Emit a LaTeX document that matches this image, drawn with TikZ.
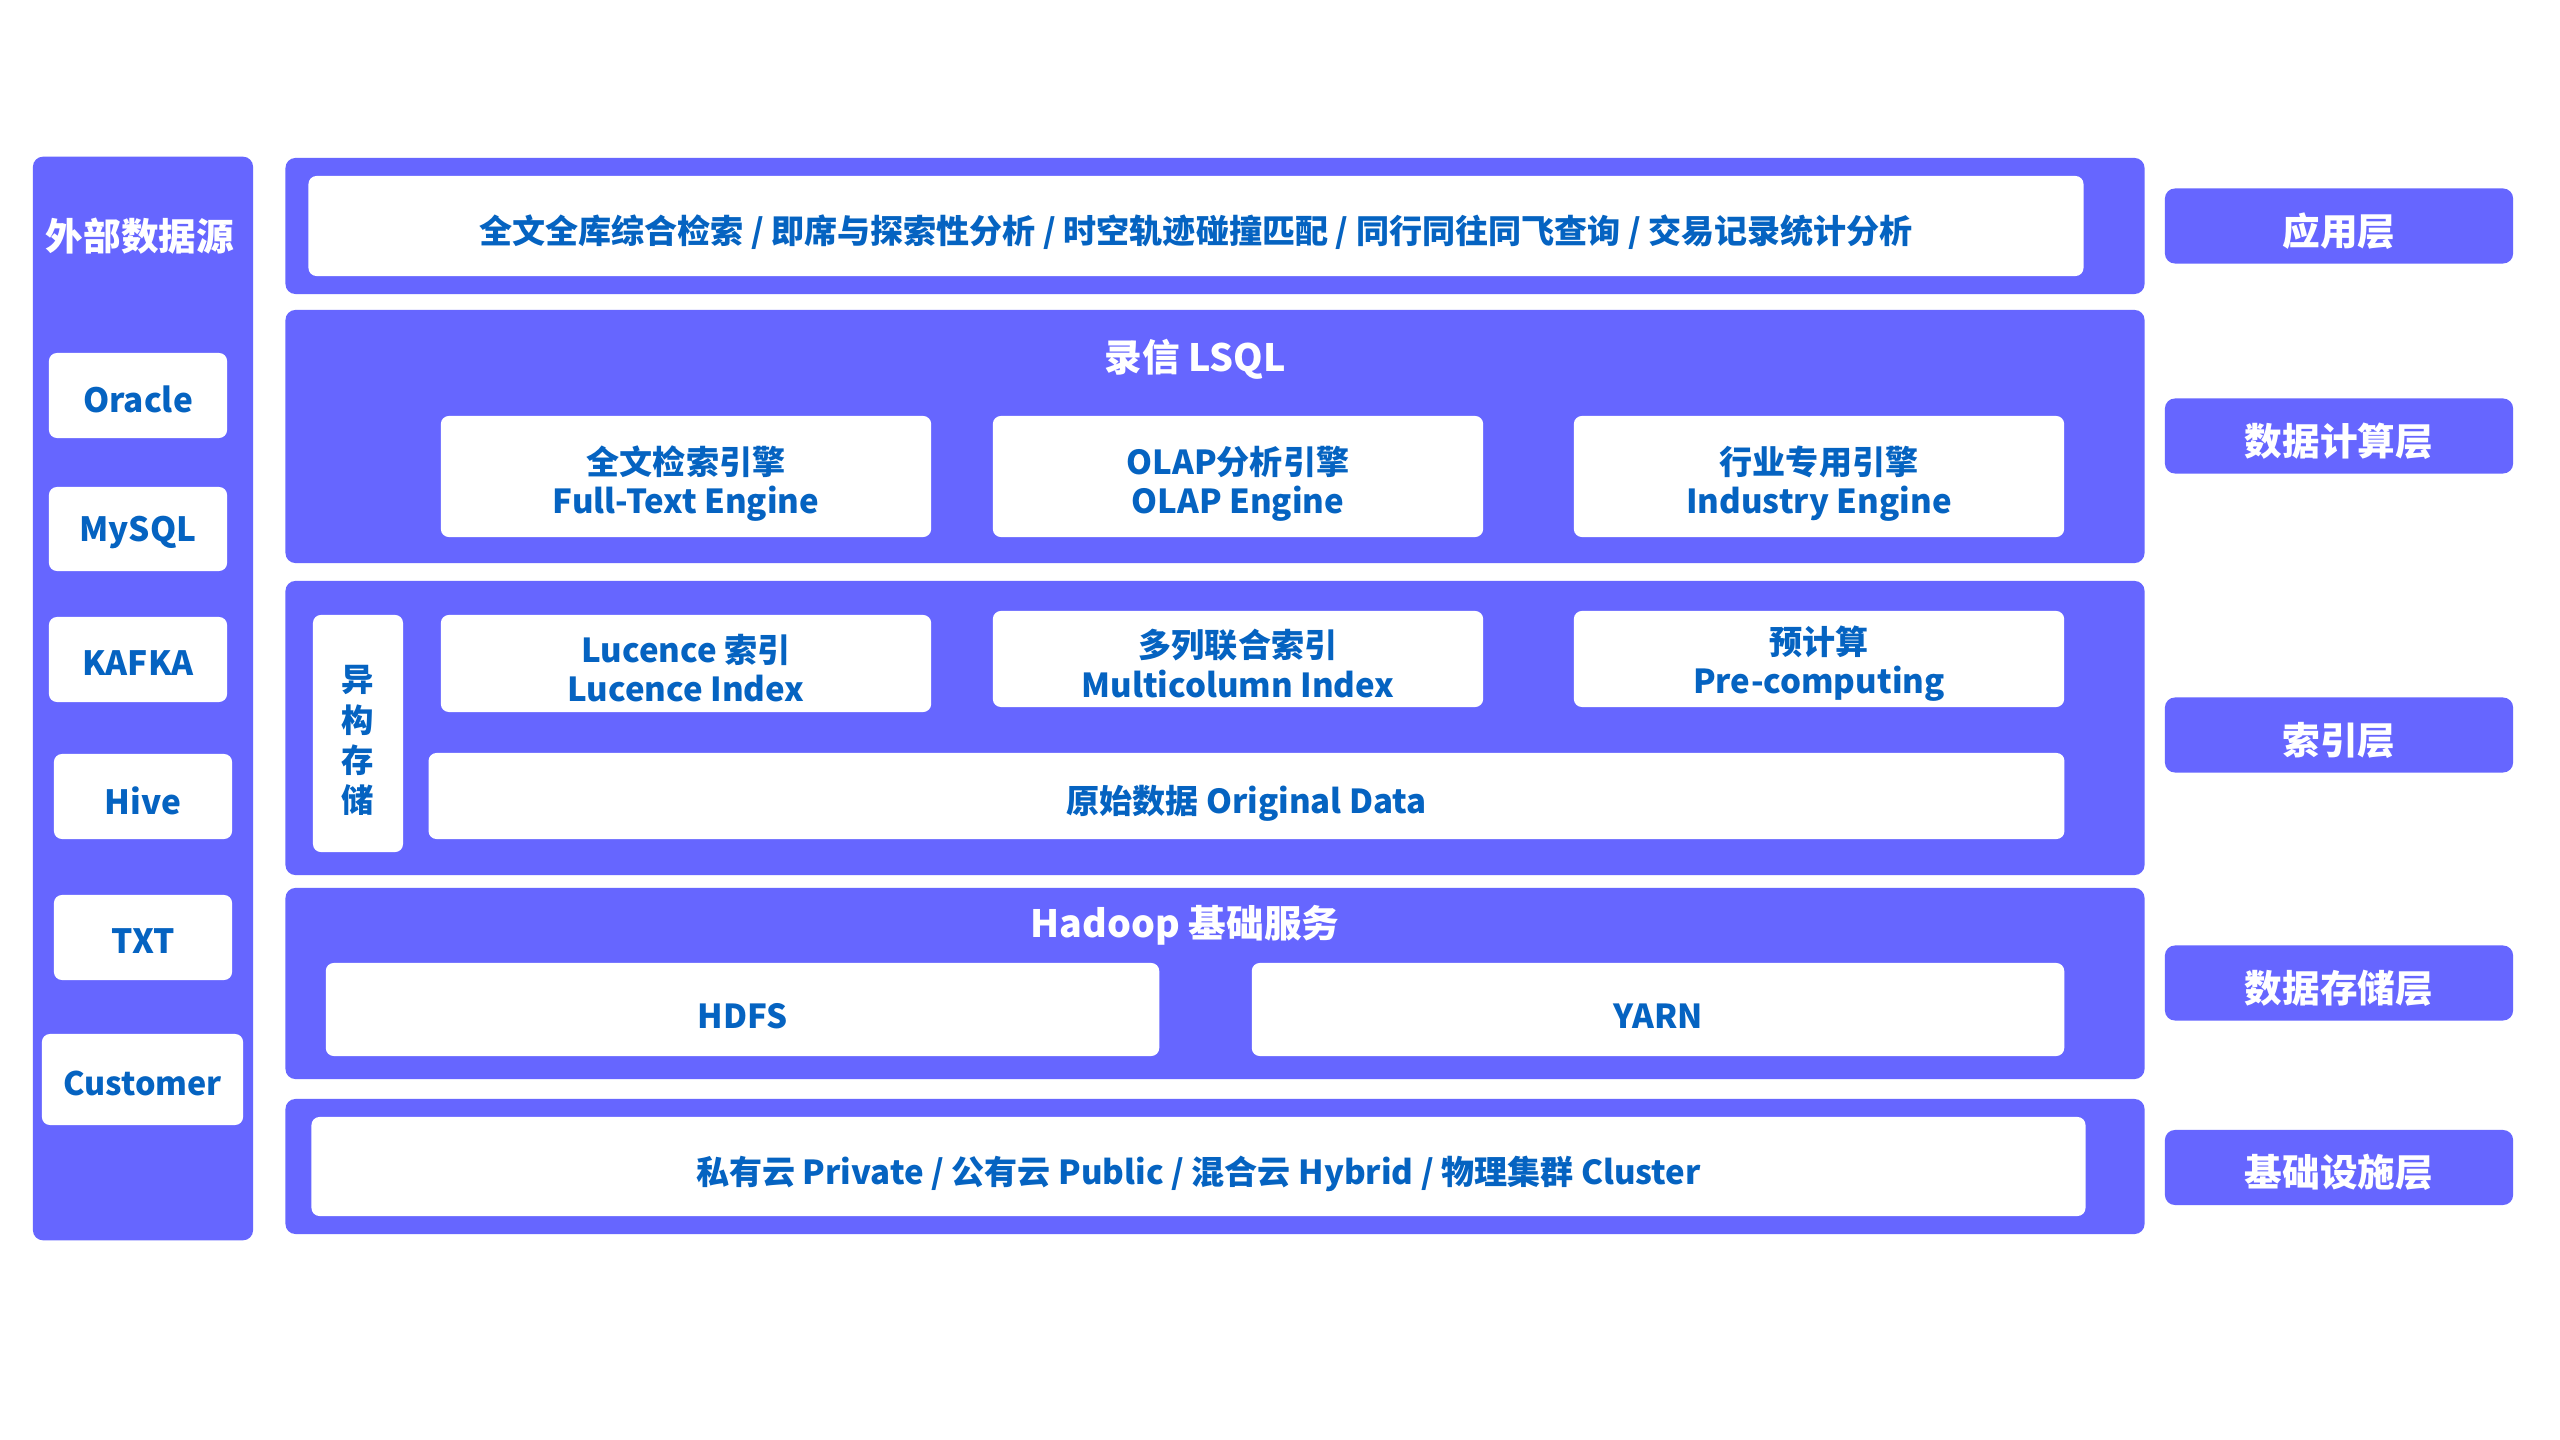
\documentclass[tikz,border=0pt]{standalone}
\usepackage{fontspec}
\setmainfont{Noto Sans CJK SC}
\definecolor{lay}{HTML}{6666FF}
\definecolor{tx}{HTML}{0563C1}
\tikzset{
  layer/.style={fill=lay, rounded corners=0.1cm, inner sep=0pt, outer sep=0pt, minimum width=18.58cm},
  wbox/.style={fill=white, rounded corners=0.08cm, inner sep=0pt, outer sep=0pt},
  basetxt/.style={text=tx, align=center, inner sep=0pt, font=\bfseries\fontsize{9.4}{11.2}\selectfont},
  wtxt/.style={basetxt, yshift=-0.07cm},
  itxt/.style={basetxt, yshift=-0.045cm},
  srctxt/.style={basetxt, yshift=-0.04cm, font=\bfseries\fontsize{9.5}{11.4}\selectfont},
  lbl/.style={fill=lay, rounded corners=0.1cm, inner sep=0pt, minimum width=3.48cm, minimum height=0.75cm},
  lbltxt/.style={text=white, inner sep=0pt, yshift=-0.05cm, font=\bfseries\fontsize{10.7}{12.8}\selectfont},
  ttl/.style={text=white, inner sep=0pt, yshift=-0.03cm, font=\bfseries\fontsize{10.7}{12.8}\selectfont},
}
\begin{document}
\begin{tikzpicture}[x=0.01cm,y=-0.01cm]
\useasboundingbox[fill=white] (0,0) rectangle (2560,1440);

% left column
\node[layer, minimum width=2.2cm, minimum height=10.83cm] (src) at (143,698.5) {};
\node[ttl] (srct) at (140,233) {外部数据源};
\node[wbox, minimum width=1.78cm, minimum height=0.85cm] (oracle) at (138,395.5) {};
\node[srctxt] (oraclet) at (oracle) {Oracle};
\node[wbox, minimum width=1.78cm, minimum height=0.84cm] (mysql) at (138,529) {};
\node[srctxt] (mysqlt) at (mysql) {MySQL};
\node[wbox, minimum width=1.78cm, minimum height=0.85cm] (kafka) at (138,659.5) {};
\node[srctxt] (kafkat) at (kafka) {KAFKA};
\node[wbox, minimum width=1.78cm, minimum height=0.85cm] (hive) at (143,796.5) {};
\node[srctxt] (hivet) at (hive) {Hive};
\node[wbox, minimum width=1.78cm, minimum height=0.85cm] (txt) at (143,937.5) {};
\node[srctxt] (txtt) at (txt) {TXT};
\node[wbox, minimum width=2.01cm, minimum height=0.91cm] (cust) at (142.5,1079.5) {};
\node[srctxt, font=\bfseries\fontsize{9.2}{11}\selectfont] (custt) at (cust) {Customer};

% application layer
\node[layer, minimum height=1.36cm] (app) at (1215,226) {};
\node[wbox, minimum width=17.74cm, minimum height=1.0cm] (appin) at (1196,226) {};
\node[wtxt, yshift=0.01cm] (appint) at (appin)
  {全文全库综合检索 / 即席与探索性分析 / 时空轨迹碰撞匹配 / 同行同往同飞查询 / 交易记录统计分析};

% compute layer
\node[layer, minimum height=2.53cm] (lsql) at (1215,436.5) {};
\node[ttl] (lsqlt) at (1195,356) {录信 LSQL};
\node[wbox, minimum width=4.9cm, minimum height=1.21cm] (e1) at (686,476.5) {};
\node[wtxt] (e1t) at (e1) {全文检索引擎\\Full-Text Engine};
\node[wbox, minimum width=4.9cm, minimum height=1.21cm] (e2) at (1238,476.5) {};
\node[wtxt] (e2t) at (e2) {OLAP分析引擎\\OLAP Engine};
\node[wbox, minimum width=4.9cm, minimum height=1.21cm] (e3) at (1819,476.5) {};
\node[wtxt] (e3t) at (e3) {行业专用引擎\\Industry Engine};

% index layer
\node[layer, minimum height=2.94cm] (idx) at (1215,728) {};
\node[wbox, minimum width=0.9cm, minimum height=2.37cm] (het) at (358,733.5) {};
\node[wtxt, font=\bfseries\fontsize{9.2}{11.4}\selectfont] (hett) at (het) {异\\构\\存\\储};
\node[wbox, minimum width=4.9cm, minimum height=0.97cm] (i1) at (686,663.5) {};
\node[itxt] (i1t) at (i1) {Lucence 索引\\Lucence Index};
\node[wbox, minimum width=4.9cm, minimum height=0.96cm] (i2) at (1238,659) {};
\node[itxt] (i2t) at (i2) {多列联合索引\\Multicolumn Index};
\node[wbox, minimum width=4.9cm, minimum height=0.96cm] (i3) at (1819,659) {};
\node[itxt] (i3t) at (i3) {预计算\\Pre-computing};
\node[wbox, minimum width=16.35cm, minimum height=0.86cm] (orig) at (1246.5,796) {};
\node[wtxt] (origt) at (orig) {原始数据 Original Data};

% storage layer
\node[layer, minimum height=1.91cm] (had) at (1215,983.5) {};
\node[ttl] (hadt) at (1185,922.5) {Hadoop 基础服务};
\node[wbox, minimum width=8.33cm, minimum height=0.93cm] (hdfs) at (742.5,1009.5) {};
\node[wtxt] (hdfst) at (hdfs) {HDFS};
\node[wbox, minimum width=8.12cm, minimum height=0.93cm] (yarn) at (1658,1009.5) {};
\node[wtxt] (yarnt) at (yarn) {YARN};

% infrastructure layer
\node[layer, minimum height=1.35cm] (inf) at (1215,1166.5) {};
\node[wbox, minimum width=17.73cm, minimum height=0.99cm] (infin) at (1198.5,1166.5) {};
\node[wtxt] (infint) at (infin)
  {私有云 Private / 公有云 Public / 混合云 Hybrid / 物理集群 Cluster};

% right labels
\node[lbl] (l1) at (2339,226) {};
\node[lbltxt] (l1t) at (l1) {应用层};
\node[lbl] (l2) at (2339,436) {};
\node[lbltxt] (l2t) at (l2) {数据计算层};
\node[lbl] (l3) at (2339,735) {};
\node[lbltxt] (l3t) at (l3) {索引层};
\node[lbl] (l4) at (2339,983) {};
\node[lbltxt] (l4t) at (l4) {数据存储层};
\node[lbl] (l5) at (2339,1167.5) {};
\node[lbltxt] (l5t) at (l5) {基础设施层};
\end{tikzpicture}
\end{document}
